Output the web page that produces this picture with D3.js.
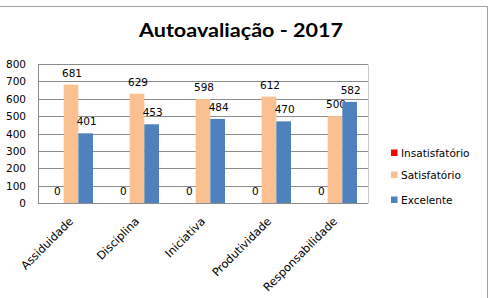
<!DOCTYPE html>
<html><head><meta charset="utf-8">
<script src="https://cdn.jsdelivr.net/npm/d3@7"></script>
<style>body{margin:0;background:#fff}</style>
</head><body>
<script>
const categories = ["Assiduidade","Disciplina","Iniciativa","Produtividade","Responsabilidade"];
const insatisfatorio = [0,0,0,0,0];
const satisfatorio = [681,629,598,612,500];
const excelente = [401,453,484,470,582];
const seriesNames = ["Insatisfatório","Satisfatório","Excelente"];
const seriesColors = ["#FF0000","#FAC090","#4F81BD"];
const yTicks = [0,100,200,300,400,500,600,700,800];
const title = "Autoavaliação - 2017";

const W=490,H=298;
const svg=d3.select("body").append("svg").attr("width",W).attr("height",H);
svg.append("rect").attr("width",W).attr("height",H).attr("fill","#fff");
svg.append("line").attr("x1",0).attr("x2",487.5).attr("y1",6.5).attr("y2",6.5).attr("stroke","#a0a0a0");
svg.append("line").attr("x1",487.5).attr("x2",487.5).attr("y1",6.5).attr("y2",H).attr("stroke","#a0a0a0");

svg.append("text").attr("x",139).attr("y",37).attr("text-anchor","start")
  .attr("font-family","Lato, 'Open Sans', sans-serif").attr("font-weight","bold").attr("font-size",19)
  .attr("textLength",204).attr("lengthAdjust","spacingAndGlyphs")
  .attr("fill","#000").text(title);

const L=38,R=368,T=64,B=203;
const y=d3.scaleLinear().domain([0,800]).range([B,T]);
const x0=d3.scaleBand().domain(categories).range([L,R]);
const x1=d3.scaleBand().domain(seriesNames).range([0,x0.bandwidth()]).paddingInner(0).paddingOuter(0.75);

const g=svg.append("g");
g.selectAll("line.grid").data(yTicks).join("line").attr("class","grid")
  .attr("x1",L).attr("x2",R).attr("y1",d=>Math.round(y(d))+0.5).attr("y2",d=>Math.round(y(d))+0.5)
  .attr("stroke","#8c8c8c").attr("stroke-width",1);
g.append("line").attr("x1",L+0.5).attr("x2",L+0.5).attr("y1",Math.round(y(800))+0.5).attr("y2",Math.round(y(0))+0.5).attr("stroke","#8c8c8c");
g.append("line").attr("x1",R+0.5).attr("x2",R+0.5).attr("y1",Math.round(y(800))+0.5).attr("y2",Math.round(y(0))+0.5).attr("stroke","#c8c8c8");

g.selectAll("text.ytick").data(yTicks).join("text").attr("class","ytick")
  .attr("x",26).attr("y",d=>y(d)+4).attr("text-anchor","end")
  .attr("font-family","'DejaVu Sans', sans-serif").attr("font-size",10.5).attr("fill","#000").text(d=>d);

const data=[insatisfatorio,satisfatorio,excelente];
categories.forEach((c,i)=>{
  seriesNames.forEach((s,j)=>{
    const v=data[j][i];
    const bx=x0(c)+x1(s);
    g.append("rect").attr("x",bx).attr("y",y(v)).attr("width",x1.bandwidth()).attr("height",y(0)-y(v)).attr("fill",seriesColors[j]);
    g.append("text").attr("x",bx+x1.bandwidth()/2+1).attr("y",y(v)-8).attr("text-anchor","middle")
      .attr("font-family","'DejaVu Sans', sans-serif").attr("font-size",10.5).attr("fill","#000").text(v);
  });
});

categories.forEach(c=>{
  const cx=x0(c)+x0.bandwidth()/2;
  g.append("text").attr("transform",`translate(${cx+3},${B+19}) rotate(-45)`).attr("text-anchor","end")
    .attr("font-family","'DejaVu Sans', sans-serif").attr("font-size",11.3).attr("fill","#000").text(c);
});

const ly=[153,175,200];
seriesNames.forEach((s,j)=>{
  svg.append("rect").attr("x",391).attr("y",ly[j]-3.5).attr("width",6.5).attr("height",6.5).attr("fill",seriesColors[j]);
  svg.append("text").attr("x",401).attr("y",ly[j]+3.5).attr("font-family","'DejaVu Sans', sans-serif")
    .attr("font-size",10.5).attr("fill","#000").text(s);
});
</script>
</body></html>
